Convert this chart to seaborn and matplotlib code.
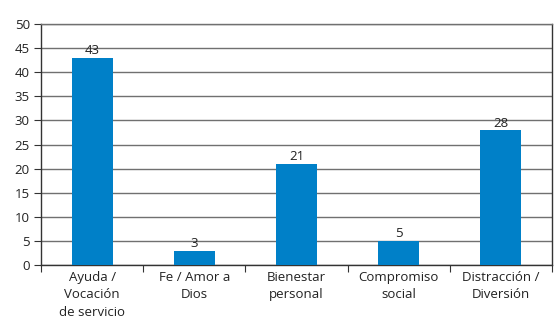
import matplotlib
matplotlib.use('Agg')
import matplotlib.pyplot as plt
import seaborn as sns
import numpy as np
import pandas as pd

# Data
categories = ['Ayuda /\nVocación\nde servicio', 'Fe / Amor a\nDios', 'Bienestar\npersonal',
              'Compromiso\nsocial', 'Distracción /\nDiversión']
values = [43, 3, 21, 5, 28]

df = pd.DataFrame({'cat': categories, 'val': values})

sns.set_style('white')
plt.rcParams['font.family'] = ['Open Sans', 'DejaVu Sans']

fig = plt.figure(figsize=(5.57, 3.25), dpi=100)
ax = fig.add_axes([0.0736, 0.1846, 0.9175, 0.7415])

sns.barplot(x='cat', y='val', data=df, color='#0080c8', saturation=1, width=0.4, ax=ax,
            zorder=3, edgecolor='none')

# value labels above bars
for i, v in enumerate(values):
    ax.text(i, v + 0.1, str(v), ha='center', va='bottom', fontsize=9.5, color='#222222', zorder=4)

ax.set_ylim(0, 50)
ax.set_xlim(-0.5, len(categories) - 0.5)
ax.set_yticks(np.arange(0, 51, 5))
ax.yaxis.grid(True, color='#707070', linewidth=1.0, zorder=0)
ax.set_axisbelow(True)

# category labels centred, tick marks at category boundaries
ax.set_xticks(np.arange(-0.5, len(categories), 1.0))
ax.set_xticklabels([])
ax.set_xticks(range(len(categories)), minor=True)
ax.set_xticklabels(categories, minor=True, fontsize=9.5, color='#222222', linespacing=1.45)
ax.tick_params(axis='x', which='major', direction='out', length=5, color='#333333', bottom=True)
ax.tick_params(axis='x', which='minor', length=0, pad=4)
ax.tick_params(axis='y', direction='out', length=5, color='#333333', labelsize=9.5,
               labelcolor='#222222', left=True, pad=3)

ax.set_xlabel('')
ax.set_ylabel('')

for name, sp in ax.spines.items():
    sp.set_visible(True)
    sp.set_color('#333333')
    sp.set_linewidth(1.0)
ax.spines['top'].set_color('#707070')

fig.savefig('out.png', dpi=100)
